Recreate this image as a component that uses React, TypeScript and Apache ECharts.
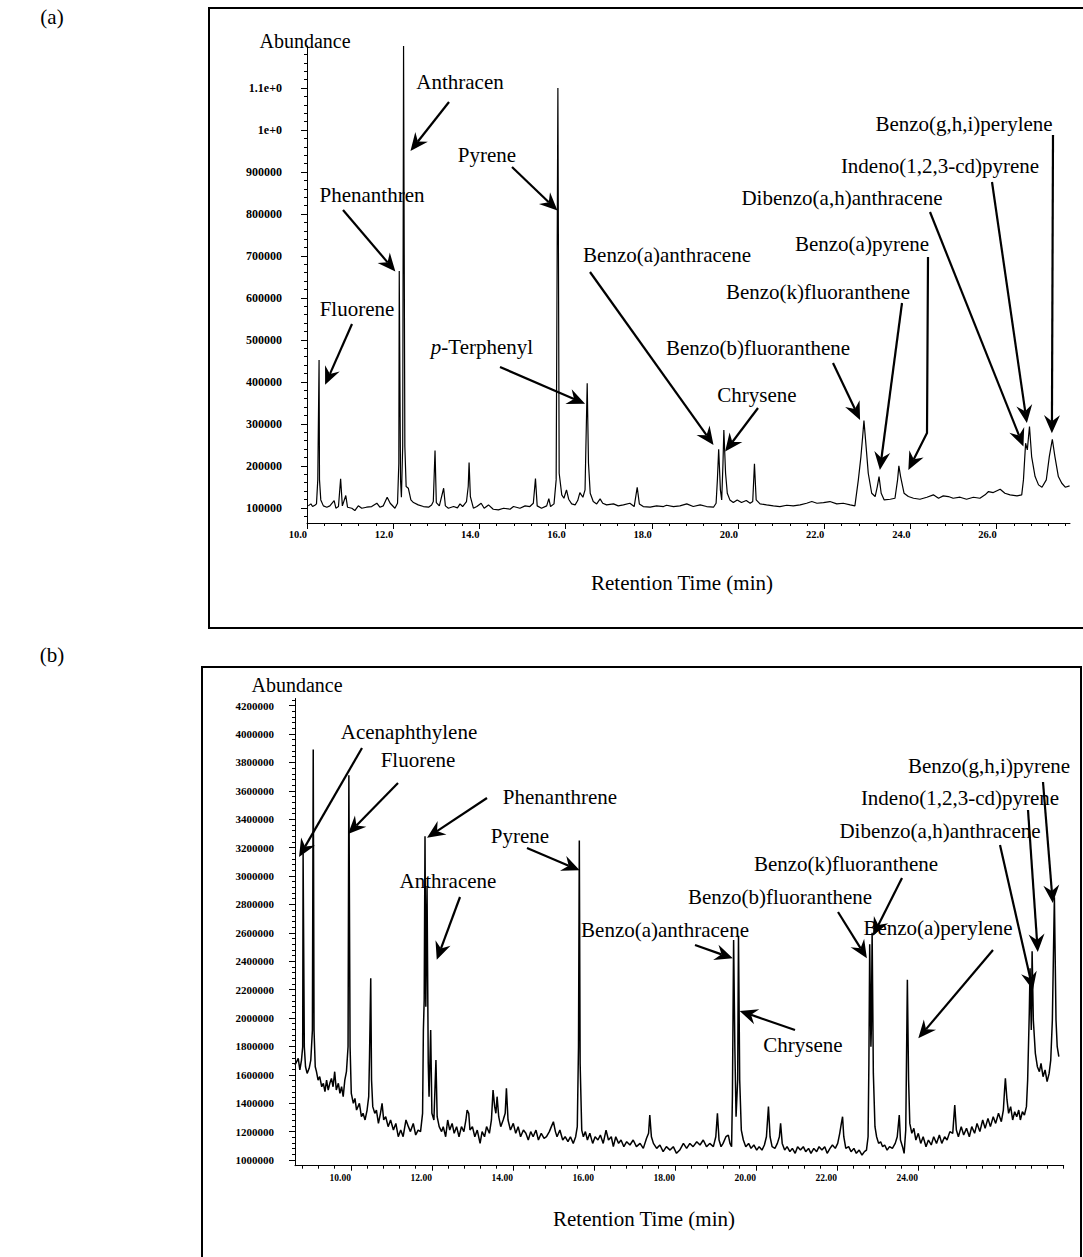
import React, { useEffect, useRef } from "react";
import * as echarts from "echarts";

// ---------------- DATA ----------------
// (a) chromatogram: [retention time (min), abundance]
const chromA: [number, number][] = [
  [10.03,104800],[10.09,109500],[10.13,103200],[10.19,107100],[10.22,109500],[10.25,166700],[10.28,452000],[10.29,166700],[10.32,119000],[10.38,104800],
  [10.46,101600],[10.53,104800],[10.63,117500],[10.67,99200],[10.73,103200],[10.78,169000],[10.82,104800],[10.90,129400],[10.94,101600],[11.04,99200],
  [11.11,93700],[11.19,104800],[11.27,99200],[11.38,101600],[11.50,103200],[11.62,111100],[11.69,101600],[11.77,104800],[11.86,125400],[11.93,111100],
  [12.04,99200],[12.10,111100],[12.13,206300],[12.14,664000],[12.17,166700],[12.19,125400],[12.22,246000],[12.24,1200000],[12.27,246000],[12.30,150800],
  [12.35,146800],[12.41,119000],[12.47,112700],[12.58,107100],[12.70,103200],[12.82,101600],[12.89,107100],[12.93,115100],[12.97,236500],[13.00,112700],
  [13.07,104800],[13.17,146800],[13.21,104800],[13.28,99200],[13.40,103200],[13.49,100000],[13.55,109500],[13.61,103200],[13.70,115100],[13.74,150800],
  [13.76,207900],[13.79,127000],[13.86,99200],[13.94,103200],[14.04,111100],[14.11,99200],[14.21,107100],[14.32,96800],[14.44,95200],[14.56,99200],
  [14.71,96800],[14.79,103200],[14.94,99200],[15.06,104800],[15.17,103200],[15.25,111100],[15.30,169800],[15.34,104800],[15.44,99200],[15.56,104800],
  [15.61,122200],[15.65,103200],[15.73,109500],[15.78,166700],[15.82,1100000],[15.85,182500],[15.91,131000],[15.96,123000],[16.02,142900],[16.07,120600],
  [16.14,109500],[16.22,107100],[16.28,117500],[16.33,136500],[16.40,125400],[16.45,142900],[16.47,246000],[16.50,397000],[16.53,206300],[16.57,134900],
  [16.64,115100],[16.72,109500],[16.80,121400],[16.86,111100],[16.95,107100],[17.11,109500],[17.22,104800],[17.34,107100],[17.49,111100],[17.59,103200],
  [17.66,149200],[17.71,109500],[17.80,103200],[17.96,101600],[18.11,104800],[18.27,103200],[18.34,106300],[18.50,103200],[18.65,104800],[18.81,109500],
  [18.96,103200],[19.12,107100],[19.27,103200],[19.43,101600],[19.49,111100],[19.52,166700],[19.55,239700],[19.59,142900],[19.62,119000],[19.65,206300],
  [19.67,285700],[19.71,182500],[19.75,134900],[19.81,119000],[19.89,112700],[19.98,119000],[20.08,112700],[20.19,117500],[20.28,111100],[20.34,115100],
  [20.38,204800],[20.42,119000],[20.51,109500],[20.66,107100],[20.82,104800],[20.97,103200],[21.13,106300],[21.28,104800],[21.44,107100],[21.59,111100],
  [21.71,115100],[21.83,111100],[21.98,112700],[22.13,115100],[22.29,109500],[22.44,111100],[22.60,107100],[22.71,104800],[22.79,166700],[22.85,222200],
  [22.89,269800],[22.92,307900],[22.97,246000],[23.02,182500],[23.10,134900],[23.18,127000],[23.23,150800],[23.27,174600],[23.32,134900],[23.39,119000],
  [23.53,120600],[23.64,123000],[23.70,166700],[23.73,200000],[23.77,174600],[23.85,134900],[23.95,127000],[24.07,123000],[24.22,120600],[24.38,125400],
  [24.53,131000],[24.65,123000],[24.76,128600],[24.88,127000],[24.99,123000],[25.15,125400],[25.30,120600],[25.46,125400],[25.61,123000],[25.73,131000],
  [25.81,138900],[25.92,136500],[26.08,144400],[26.19,134900],[26.31,131000],[26.47,128600],[26.58,131000],[26.62,166700],[26.67,254000],[26.71,238100],
  [26.76,293700],[26.81,222200],[26.89,174600],[26.97,154800],[27.05,149200],[27.15,166700],[27.22,222200],[27.29,263500],[27.35,222200],[27.43,174600],
  [27.51,158700],[27.59,149200],[27.69,152400],
];

// (b) chromatogram: [retention time (min), abundance]
const chromB: [number, number][] = [
  [8.62,1669000],[8.70,1716000],[8.74,1634000],[8.78,1704000],[8.81,1798000],[8.82,3160000],[8.85,1798000],[8.88,1657000],[8.92,1610000],[8.97,1646000],
  [9.01,1704000],[9.05,1915000],[9.07,3890000],[9.09,1915000],[9.12,1657000],[9.15,1622000],[9.19,1563000],[9.23,1587000],[9.28,1516000],[9.32,1540000],
  [9.36,1481000],[9.40,1563000],[9.44,1493000],[9.48,1540000],[9.52,1575000],[9.56,1516000],[9.60,1622000],[9.64,1493000],[9.69,1540000],[9.73,1469000],
  [9.77,1516000],[9.81,1446000],[9.85,1563000],[9.89,1622000],[9.93,1798000],[9.95,3710000],[9.98,1798000],[10.01,1469000],[10.06,1399000],[10.10,1434000],
  [10.14,1352000],[10.21,1399000],[10.26,1305000],[10.30,1329000],[10.35,1282000],[10.40,1352000],[10.44,1446000],[10.46,1728000],[10.49,2280000],[10.51,1563000],
  [10.54,1376000],[10.59,1329000],[10.63,1352000],[10.68,1258000],[10.73,1329000],[10.77,1399000],[10.81,1282000],[10.86,1305000],[10.92,1235000],[10.98,1282000],
  [11.05,1211000],[11.11,1258000],[11.17,1164000],[11.23,1211000],[11.29,1164000],[11.36,1282000],[11.42,1235000],[11.47,1200000],[11.54,1258000],[11.60,1176000],
  [11.66,1211000],[11.72,1200000],[11.77,1329000],[11.79,1915000],[11.81,2127000],[11.83,3280000],[11.85,2080000],[11.88,2930000],[11.91,1681000],[11.93,1446000],
  [11.97,1915000],[12.00,1329000],[12.05,1282000],[12.10,1704000],[12.13,1305000],[12.18,1235000],[12.24,1200000],[12.28,1235000],[12.34,1164000],[12.39,1282000],
  [12.44,1211000],[12.50,1258000],[12.55,1188000],[12.61,1235000],[12.67,1164000],[12.73,1235000],[12.79,1200000],[12.84,1282000],[12.87,1352000],[12.91,1329000],
  [12.94,1211000],[13.00,1235000],[13.06,1164000],[13.12,1211000],[13.19,1117000],[13.24,1200000],[13.30,1164000],[13.35,1235000],[13.42,1188000],[13.47,1282000],
  [13.51,1493000],[13.55,1376000],[13.58,1329000],[13.61,1446000],[13.65,1305000],[13.70,1235000],[13.76,1282000],[13.81,1329000],[13.84,1505000],[13.88,1282000],
  [13.94,1211000],[14.01,1258000],[14.07,1188000],[14.13,1235000],[14.19,1164000],[14.26,1211000],[14.32,1188000],[14.38,1141000],[14.44,1200000],[14.50,1164000],
  [14.57,1211000],[14.63,1141000],[14.70,1188000],[14.77,1153000],[14.83,1164000],[14.90,1200000],[14.95,1235000],[15.00,1270000],[15.05,1200000],[15.09,1164000],
  [15.16,1211000],[15.23,1141000],[15.29,1164000],[15.36,1129000],[15.42,1164000],[15.49,1117000],[15.55,1164000],[15.59,1235000],[15.62,1798000],[15.64,3250000],
  [15.66,1681000],[15.70,1211000],[15.74,1164000],[15.79,1200000],[15.84,1141000],[15.90,1188000],[15.97,1117000],[16.03,1164000],[16.10,1141000],[16.16,1176000],
  [16.23,1117000],[16.30,1211000],[16.36,1141000],[16.43,1164000],[16.48,1094000],[16.54,1164000],[16.61,1117000],[16.67,1141000],[16.74,1094000],[16.81,1129000],
  [16.89,1106000],[16.97,1141000],[17.05,1094000],[17.14,1117000],[17.22,1082000],[17.30,1153000],[17.35,1188000],[17.38,1317000],[17.42,1164000],[17.47,1117000],
  [17.55,1082000],[17.63,1106000],[17.71,1059000],[17.79,1094000],[17.88,1070000],[17.96,1094000],[18.04,1047000],[18.12,1070000],[18.21,1117000],[18.29,1082000],
  [18.37,1117000],[18.45,1094000],[18.54,1129000],[18.62,1106000],[18.70,1141000],[18.78,1094000],[18.86,1117000],[18.95,1094000],[19.01,1164000],[19.05,1329000],
  [19.09,1141000],[19.14,1094000],[19.19,1117000],[19.26,1164000],[19.32,1176000],[19.36,1117000],[19.40,1094000],[19.42,1446000],[19.45,2550000],[19.48,1798000],
  [19.51,1305000],[19.55,1563000],[19.57,2580000],[19.60,1563000],[19.64,1211000],[19.69,1141000],[19.75,1094000],[19.82,1117000],[19.88,1082000],[19.95,1106000],
  [20.02,1070000],[20.08,1094000],[20.15,1070000],[20.21,1106000],[20.26,1164000],[20.31,1376000],[20.35,1164000],[20.40,1094000],[20.47,1082000],[20.53,1117000],
  [20.58,1164000],[20.61,1258000],[20.65,1117000],[20.71,1070000],[20.77,1094000],[20.84,1059000],[20.90,1082000],[20.97,1047000],[21.03,1094000],[21.10,1070000],
  [21.17,1094000],[21.23,1059000],[21.30,1082000],[21.36,1047000],[21.43,1082000],[21.50,1059000],[21.56,1094000],[21.63,1070000],[21.70,1094000],[21.76,1047000],
  [21.83,1082000],[21.89,1106000],[21.96,1082000],[22.02,1117000],[22.07,1188000],[22.11,1258000],[22.14,1305000],[22.17,1164000],[22.22,1082000],[22.29,1094000],
  [22.35,1059000],[22.42,1082000],[22.48,1047000],[22.55,1070000],[22.62,1035000],[22.68,1059000],[22.73,1070000],[22.77,1164000],[22.79,1681000],[22.81,2520000],
  [22.84,1798000],[22.85,1915000],[22.87,2600000],[22.90,1610000],[22.94,1235000],[22.98,1164000],[23.03,1117000],[23.08,1129000],[23.13,1094000],[23.18,1106000],
  [23.24,1070000],[23.30,1094000],[23.37,1082000],[23.44,1117000],[23.49,1164000],[23.54,1317000],[23.57,1141000],[23.62,1094000],[23.66,1047000],[23.70,1211000],
  [23.74,2270000],[23.77,1563000],[23.80,1258000],[23.85,1188000],[23.90,1223000],[23.95,1141000],[24.01,1188000],[24.07,1117000],[24.13,1164000],[24.20,1094000],
  [24.26,1141000],[24.33,1106000],[24.39,1164000],[24.46,1117000],[24.53,1176000],[24.59,1117000],[24.66,1164000],[24.72,1141000],[24.79,1200000],[24.86,1188000],
  [24.91,1387000],[24.95,1211000],[25.00,1164000],[25.07,1235000],[25.13,1176000],[25.20,1223000],[25.27,1164000],[25.33,1235000],[25.40,1188000],[25.46,1258000],
  [25.53,1200000],[25.60,1282000],[25.66,1223000],[25.73,1293000],[25.79,1235000],[25.86,1305000],[25.92,1258000],[25.99,1329000],[26.06,1270000],[26.11,1352000],
  [26.14,1493000],[26.16,1575000],[26.20,1423000],[26.24,1329000],[26.29,1376000],[26.34,1282000],[26.39,1340000],[26.44,1305000],[26.49,1352000],[26.53,1282000],
  [26.58,1340000],[26.63,1317000],[26.68,1376000],[26.71,1563000],[26.75,2033000],[26.77,2350000],[26.80,1915000],[26.82,2470000],[26.85,1986000],[26.90,1751000],
  [26.95,1657000],[27.00,1622000],[27.04,1681000],[27.09,1587000],[27.14,1634000],[27.19,1552000],[27.24,1610000],[27.28,1704000],[27.32,1986000],[27.37,2850000],
  [27.41,1986000],[27.44,1798000],[27.48,1728000],
];

// tick values and tick labels
const yTicksA = [100000, 200000, 300000, 400000, 500000, 600000, 700000, 800000, 900000, 1000000, 1100000];
const yLabelsA = ["100000", "200000", "300000", "400000", "500000", "600000", "700000", "800000", "900000", "1e+0", "1.1e+0"];
const xTicksA = [10, 12, 14, 16, 18, 20, 22, 24, 26];
const xLabelsA = ["10.0", "12.0", "14.0", "16.0", "18.0", "20.0", "22.0", "24.0", "26.0"];
const yTicksB = [1000000, 1200000, 1400000, 1600000, 1800000, 2000000, 2200000, 2400000, 2600000, 2800000, 3000000, 3200000, 3400000, 3600000, 3800000, 4000000, 4200000];
const yLabelsB = ["1000000", "1200000", "1400000", "1600000", "1800000", "2000000", "2200000", "2400000", "2600000", "2800000", "3000000", "3200000", "3400000", "3600000", "3800000", "4000000", "4200000"];
const xTicksB = [10, 12, 14, 16, 18, 20, 22, 24];
const xLabelsB = ["10.00", "12.00", "14.00", "16.00", "18.00", "20.00", "22.00", "24.00"];

// peak names
const peakNamesA = ["Fluorene", "Phenanthren", "Anthracen", "Pyrene", "p-Terphenyl", "Benzo(a)anthracene", "Chrysene",
  "Benzo(b)fluoranthene", "Benzo(k)fluoranthene", "Benzo(a)pyrene", "Dibenzo(a,h)anthracene", "Indeno(1,2,3-cd)pyrene", "Benzo(g,h,i)perylene"];
const peakNamesB = ["Acenaphthylene", "Fluorene", "Phenanthrene", "Anthracene", "Pyrene", "Benzo(a)anthracene", "Chrysene",
  "Benzo(b)fluoranthene", "Benzo(k)fluoranthene", "Benzo(a)perylene", "Dibenzo(a,h)anthracene", "Indeno(1,2,3-cd)pyrene", "Benzo(g,h,i)pyrene"];

// ---------------- LAYOUT (annotation placement) ----------------
// label centre (px), arrow path points (px), arrow tip in data coordinates
const layoutA = [
  { lx: 357, ly: 309, path: [[352, 324]], tip: [10.42, 393000] },
  { lx: 372, ly: 195, path: [[343, 210]], tip: [12.05, 663000] },
  { lx: 460, ly: 82, path: [[449, 102]], tip: [12.40, 950000] },
  { lx: 487, ly: 155, path: [[512, 167]], tip: [15.81, 808000] },
  { lx: 482, ly: 347, path: [[500, 367]], tip: [16.45, 348000] },
  { lx: 667, ly: 255, path: [[590, 272]], tip: [19.43, 250000] },
  { lx: 757, ly: 395, path: [[758, 408]], tip: [19.70, 234000] },
  { lx: 758, ly: 348, path: [[833, 363]], tip: [22.83, 309500] },
  { lx: 818, ly: 292, path: [[902, 303]], tip: [23.29, 190500] },
  { lx: 862, ly: 244, path: [[928, 257], [927, 433]], tip: [23.95, 190500] },
  { lx: 842, ly: 198, path: [[930, 212]], tip: [26.62, 246000] },
  { lx: 940, ly: 166, path: [[992, 182]], tip: [26.70, 302000] },
  { lx: 964, ly: 124, path: [[1053, 135]], tip: [27.28, 278000] },
];
const layoutB = [
  { lx: 409, ly: 732, path: [[362, 748]], tip: [8.72, 3134000] },
  { lx: 418, ly: 760, path: [[398, 783]], tip: [9.93, 3296000] },
  { lx: 560, ly: 797, path: [[487, 798]], tip: [11.88, 3270000] },
  { lx: 448, ly: 881, path: [[460, 897]], tip: [12.12, 2410000] },
  { lx: 520, ly: 836, path: [[527, 848]], tip: [15.65, 3040000] },
  { lx: 665, ly: 930, path: [[695, 945]], tip: [19.43, 2420000] },
  { lx: 803, ly: 1045, path: [[795, 1030]], tip: [19.60, 2050000] },
  { lx: 780, ly: 897, path: [[838, 912]], tip: [22.74, 2420000] },
  { lx: 846, ly: 864, path: [[902, 878]], tip: [22.89, 2580000] },
  { lx: 938, ly: 928, path: [[993, 950]], tip: [24.01, 1857000] },
  { lx: 940, ly: 831, path: [[1000, 845]], tip: [26.84, 2197000] },
  { lx: 960, ly: 798, path: [[1028, 810]], tip: [26.96, 2465000] },
  { lx: 989, ly: 766, path: [[1043, 782]], tip: [27.33, 2810000] },
];

const SERIF = "'Liberation Serif', 'Times New Roman', serif";

function labelFor(ticks: number[], labels: string[]) {
  return (v: number) => {
    for (let i = 0; i < ticks.length; i++) if (Math.abs(ticks[i] - v) < 1e-6 * Math.max(1, Math.abs(v))) return labels[i];
    return "";
  };
}

function steps(from: number, to: number, step: number, skip: number[]) {
  const out: number[] = [];
  for (let k = 0; ; k++) {
    const v = Math.round((from + k * step) * 1000) / 1000;
    if (v > to + 1e-9) break;
    if (!skip.some((s) => Math.abs(s - v) < 1e-6 * Math.max(1, Math.abs(v)))) out.push(v);
  }
  return out;
}

function arrow(points: number[][]) {
  const tip = points[points.length - 1];
  const prev = points[points.length - 2];
  const dx = tip[0] - prev[0];
  const dy = tip[1] - prev[1];
  const len = Math.hypot(dx, dy) || 1;
  const ux = dx / len, uy = dy / len;
  const nx = -uy, ny = ux;
  const L = 18, W = 8, N = 12;
  const bx = tip[0] - ux * L, by = tip[1] - uy * L;
  const notch = [tip[0] - ux * N, tip[1] - uy * N];
  return [
    { type: "polyline", silent: true, z: 20, shape: { points: [...points.slice(0, -1), notch] }, style: { stroke: "#000", lineWidth: 2.2, fill: null } },
    { type: "polygon", silent: true, z: 20, shape: { points: [tip, [bx + nx * W, by + ny * W], notch, [bx - nx * W, by - ny * W]] }, style: { fill: "#000" } },
  ];
}

function text(x: number, y: number, t: string, size = 21, extra: any = {}) {
  return {
    type: "text", silent: true, z: 20, x, y,
    style: { text: t, fontSize: size, fontFamily: SERIF, fill: "#000", align: "center", verticalAlign: "middle", ...extra },
  };
}

export default function App() {
  const ref = useRef<HTMLDivElement>(null);

  useEffect(() => {
    document.body.style.margin = "0";
    const chart = echarts.init(ref.current!, null, { renderer: "svg" });

    const tickLabel = { fontFamily: SERIF, fontWeight: "bold", color: "#000" };
    const axisLine = { show: true, lineStyle: { color: "#000", width: 1 } };

    const option: any = {
      animation: false,
      backgroundColor: "#fff",
      grid: [
        { left: 307, top: 46, width: 763, height: 477, outerBoundsMode: "none" },
        { left: 295, top: 698.5, width: 768.7, height: 467.2, outerBoundsMode: "none" },
      ],
      xAxis: [
        {
          type: "value", gridIndex: 0, position: "bottom", min: 10, max: 27.7,
          axisLine, splitLine: { show: false },
          axisTick: { show: true, customValues: xTicksA, length: 6, lineStyle: { color: "#000" } },
          axisLabel: { show: true, customValues: xTicksA, formatter: labelFor(xTicksA, xLabelsA), align: "right", margin: 6, fontSize: 10.5, ...tickLabel },
        },
        {
          type: "value", gridIndex: 0, position: "bottom", min: 10, max: 27.7,
          axisLine: { show: false }, splitLine: { show: false }, axisLabel: { show: false },
          axisTick: { show: true, customValues: steps(10, 27.6, 0.4, xTicksA), length: 3, lineStyle: { color: "#000" } },
        },
        {
          type: "value", gridIndex: 1, position: "bottom", min: 8.62, max: 27.6,
          axisLine, splitLine: { show: false },
          axisTick: { show: true, customValues: xTicksB, length: 5, lineStyle: { color: "#000" } },
          axisLabel: { show: true, customValues: xTicksB, formatter: labelFor(xTicksB, xLabelsB), align: "right", margin: 7, fontSize: 9.5, ...tickLabel },
        },
        {
          type: "value", gridIndex: 1, position: "bottom", min: 8.62, max: 27.6,
          axisLine: { show: false }, splitLine: { show: false }, axisLabel: { show: false },
          axisTick: { show: true, customValues: steps(8.8, 27.6, 0.4, xTicksB), length: 3, lineStyle: { color: "#000" } },
        },
      ],
      yAxis: [
        {
          type: "value", gridIndex: 0, position: "left", min: 64000, max: 1200000,
          axisLine, splitLine: { show: false },
          axisTick: { show: true, customValues: yTicksA, length: 6, lineStyle: { color: "#000" } },
          axisLabel: { show: true, customValues: yTicksA, formatter: labelFor(yTicksA, yLabelsA), margin: 25, fontSize: 12, ...tickLabel },
        },
        {
          type: "value", gridIndex: 0, position: "left", min: 64000, max: 1200000,
          axisLine: { show: false }, splitLine: { show: false }, axisLabel: { show: false },
          axisTick: { show: true, customValues: steps(80000, 1180000, 20000, yTicksA), length: 3, lineStyle: { color: "#000" } },
        },
        {
          type: "value", gridIndex: 1, position: "left", min: 960000, max: 4250000,
          axisLine, splitLine: { show: false },
          axisTick: { show: true, customValues: yTicksB, length: 6, lineStyle: { color: "#000" } },
          axisLabel: { show: true, customValues: yTicksB, formatter: labelFor(yTicksB, yLabelsB), margin: 21, fontSize: 11, ...tickLabel },
        },
        {
          type: "value", gridIndex: 1, position: "left", min: 960000, max: 4250000,
          axisLine: { show: false }, splitLine: { show: false }, axisLabel: { show: false },
          axisTick: { show: true, customValues: steps(1000000, 4240000, 40000, yTicksB), length: 3, lineStyle: { color: "#000" } },
        },
      ],
      series: [
        {
          type: "line", xAxisIndex: 0, yAxisIndex: 0, data: chromA, showSymbol: false, symbol: "none",
          lineStyle: { color: "#000", width: 1.2 }, clip: true, silent: true,
        },
        {
          type: "line", xAxisIndex: 2, yAxisIndex: 2, data: chromB, showSymbol: false, symbol: "none",
          lineStyle: { color: "#000", width: 1.5 }, clip: true, silent: true,
        },
      ],
    };

    chart.setOption(option);

    const g: any[] = [];
    // frames
    g.push({ type: "rect", silent: true, z: 5, shape: { x: 209, y: 8, width: 900, height: 620 }, style: { fill: null, stroke: "#000", lineWidth: 2 } });
    g.push({ type: "rect", silent: true, z: 5, shape: { x: 202, y: 667, width: 879, height: 640 }, style: { fill: null, stroke: "#000", lineWidth: 2 } });
    // panel letters and axis titles
    g.push(text(52, 17, "(a)", 21));
    g.push(text(52, 655, "(b)", 21));
    g.push(text(305, 41, "Abundance", 20));
    g.push(text(297, 685, "Abundance", 20));
    g.push(text(682, 583, "Retention Time (min)", 21));
    g.push(text(644, 1219, "Retention Time (min)", 21));

    const addAnn = (names: string[], layout: any[], seriesIndex: number) => {
      layout.forEach((a, i) => {
        const tip = chart.convertToPixel({ seriesIndex }, a.tip) as number[];
        const name = names[i];
        if (name.startsWith("p-")) {
          g.push(text(a.lx, a.ly, "{i|p}-Terphenyl", 21, {
            rich: { i: { fontStyle: "italic", fontSize: 21, fontFamily: SERIF, fill: "#000" } },
          }));
        } else {
          g.push(text(a.lx, a.ly, name, 21));
        }
        arrow([...a.path, tip]).forEach((e) => g.push(e));
      });
    };
    addAnn(peakNamesA, layoutA, 0);
    addAnn(peakNamesB, layoutB, 1);

    chart.setOption({ graphic: g });

    return () => chart.dispose();
  }, []);

  return (
    <div
      ref={ref}
      style={{ position: "absolute", left: 0, top: 0, width: 1083, height: 1257, background: "#fff" }}
    />
  );
}
